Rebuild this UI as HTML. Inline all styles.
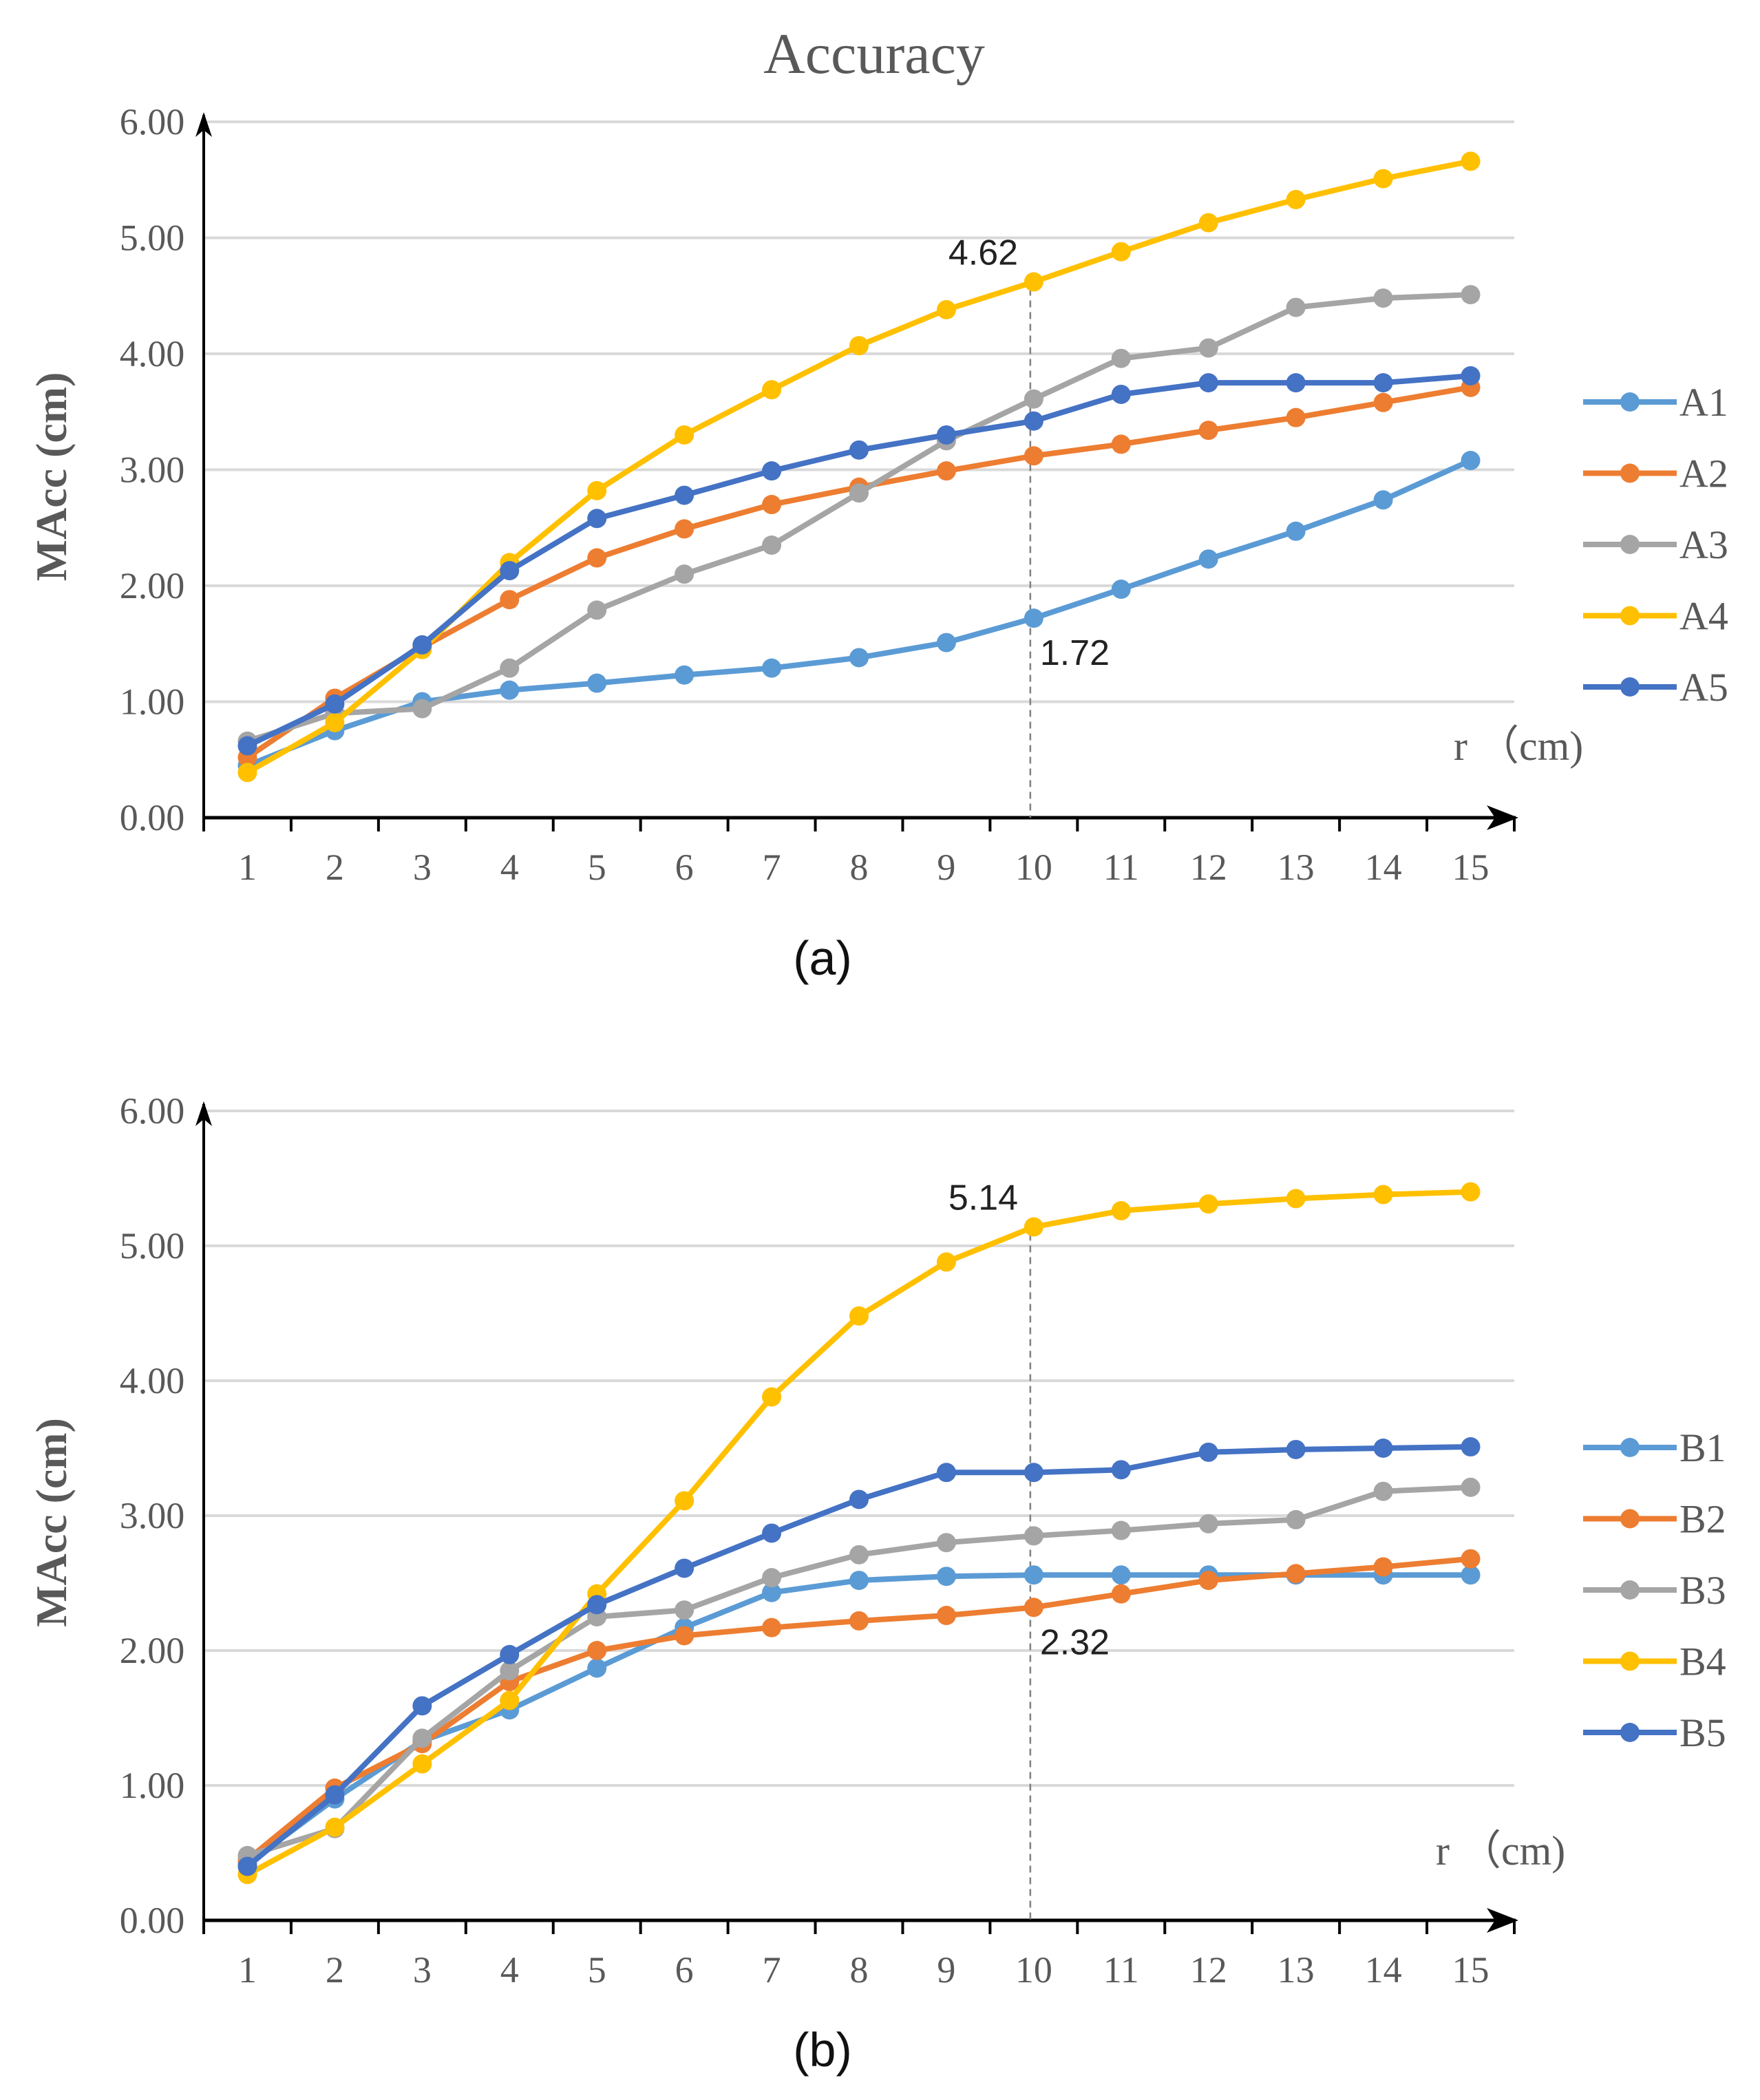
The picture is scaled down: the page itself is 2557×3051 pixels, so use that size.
<!DOCTYPE html>
<html><head><meta charset="utf-8"><style>
html,body{margin:0;padding:0;background:#fff;}
svg{display:block;}
.serif{font-family:"Liberation Serif",serif;}
.sans{font-family:"Liberation Sans",sans-serif;}
</style></head><body>
<svg id="chart" width="2557" height="3051" viewBox="0 0 2557 3051" xmlns="http://www.w3.org/2000/svg">
<text x="1270" y="106" text-anchor="middle" class="serif" font-size="84" fill="#595959">Accuracy</text>
<g id="panelA"></g>
<g id="panelB"></g>
</svg>
<script>
const categories = [1,2,3,4,5,6,7,8,9,10,11,12,13,14,15];
const yTicks = [0,1,2,3,4,5,6];
const yTickLabels = ["0.00","1.00","2.00","3.00","4.00","5.00","6.00"];
const seriesNamesA = ["A1","A2","A3","A4","A5"];
const seriesNamesB = ["B1","B2","B3","B4","B5"];
const colors = ["#5B9BD5","#ED7D31","#A5A5A5","#FFC000","#4472C4"];
const A1 = [0.45,0.75,1.0,1.1,1.16,1.23,1.29,1.38,1.51,1.72,1.97,2.23,2.47,2.74,3.08];
const A2 = [0.52,1.03,1.47,1.88,2.24,2.49,2.70,2.85,2.99,3.12,3.22,3.34,3.45,3.58,3.71];
const A3 = [0.66,0.90,0.94,1.29,1.79,2.10,2.35,2.80,3.25,3.61,3.96,4.05,4.40,4.48,4.51];
const A4 = [0.39,0.82,1.45,2.20,2.82,3.30,3.69,4.07,4.38,4.62,4.88,5.13,5.33,5.51,5.66];
const A5 = [0.62,0.98,1.49,2.13,2.58,2.78,2.99,3.17,3.30,3.42,3.65,3.75,3.75,3.75,3.81];
const B1 = [0.42,0.90,1.33,1.56,1.87,2.17,2.43,2.52,2.55,2.56,2.56,2.56,2.56,2.56,2.56];
const B2 = [0.45,0.98,1.31,1.77,2.00,2.11,2.17,2.22,2.26,2.32,2.42,2.52,2.57,2.62,2.68];
const B3 = [0.48,0.68,1.35,1.85,2.25,2.30,2.54,2.71,2.80,2.85,2.89,2.94,2.97,3.18,3.21];
const B4 = [0.34,0.69,1.16,1.63,2.42,3.11,3.88,4.48,4.88,5.14,5.26,5.31,5.35,5.38,5.40];
const B5 = [0.40,0.93,1.59,1.97,2.34,2.61,2.87,3.12,3.32,3.32,3.34,3.47,3.49,3.50,3.51];
const annotA = [{series:3,index:9,label:"4.62",above:true},{series:0,index:9,label:"1.72",above:false}];
const annotB = [{series:3,index:9,label:"5.14",above:true},{series:1,index:9,label:"2.32",above:false}];

const NS="http://www.w3.org/2000/svg";
function mk(tag,attrs,parent){const e=document.createElementNS(NS,tag);for(const k in attrs)e.setAttribute(k,attrs[k]);parent.appendChild(e);return e;}

function drawPanel(g,cfg){
  const L=296,R=2200,y0=cfg.y0,y6=cfg.y6;
  const band=(R-L)/categories.length;
  const xs=i=>L+band*(i+0.5);
  const ys=v=>y0+(y6-y0)*v/6;
  yTicks.forEach((t,i)=>{
    if(t>0){const gl=mk('line',{x1:L,x2:R,y1:ys(t),y2:ys(t),stroke:'#d9d9d9','stroke-width':4},g);
      
      }
    const tl=mk('text',{x:L-75,y:ys(t)+18,'text-anchor':'middle','font-size':54,fill:'#595959',class:'serif'},g);
    tl.textContent=yTickLabels[i];
    
    
  });
  const ya=mk('line',{x1:L,x2:L,y1:y0,y2:y6-10,stroke:'#000','stroke-width':4},g);
  
  
  const yh=mk('path',{d:`M${L-12},${y6+22} L${L},${y6-14} L${L+12},${y6+22} L${L},${y6+12} Z`,fill:'#000'},g);
  
  
  const xa=mk('line',{x1:L,x2:R+2,y1:y0,y2:y0,stroke:'#000','stroke-width':5},g);
  
  
  const xh=mk('path',{d:`M${R-40},${y0-18} L${R+6},${y0} L${R-40},${y0+18} L${R-28},${y0} Z`,fill:'#000'},g);
  
  
  for(let i=0;i<=categories.length;i++){
    const tk=mk('line',{x1:L+band*i,x2:L+band*i,y1:y0,y2:y0+20,stroke:'#000','stroke-width':4},g);
    
    
  }
  categories.forEach((c,i)=>{
    const t=mk('text',{x:xs(i),y:y0+90,'text-anchor':'middle','font-size':54,fill:'#595959',class:'serif'},g);
    t.textContent=c;
    
    
  });
  const yl=mk('text',{x:0,y:0,transform:`translate(96,${(y0+y6)/2+10}) rotate(-90)`,'text-anchor':'middle','font-size':64,'font-weight':'bold',fill:'#595959',class:'serif'},g);
  yl.textContent='MAcc (cm)';
  
  
  const xl=mk('text',{x:cfg.rx,y:cfg.ry,'text-anchor':'start','font-size':60,fill:'#595959',class:'serif'},g);
  xl.textContent='r （cm)';
  
  
  const dl=mk('line',{x1:xs(9)-5,x2:xs(9)-5,y1:ys(cfg.series[3][9])+10,y2:y0,stroke:'#808080','stroke-width':2.5,'stroke-dasharray':'10,7'},g);
  
  
  cfg.series.forEach((s,si)=>{
    const sg=mk('g',{},g);
    
    
    const p=mk('polyline',{points:s.map((v,i)=>xs(i)+','+ys(v)).join(' '),fill:'none',stroke:colors[si],'stroke-width':8,'stroke-linejoin':'round'},sg);
    
    
    s.forEach((v,i)=>{
      const c=mk('circle',{cx:xs(i),cy:ys(v),r:14,fill:colors[si]},sg);
      
      
    });
  });
  cfg.annot.forEach(a=>{
    const v=cfg.series[a.series][a.index];
    const t=mk('text',{x:a.above?xs(a.index)-124:xs(a.index)+9,y:a.above?ys(v)-25:ys(v)+68,'font-size':52,fill:'#222',class:'sans','text-anchor':'start'},g);
    t.textContent=a.label;
    
    
  });
  cfg.names.forEach((n,i)=>{
    const ly=cfg.legY+i*103.5;
    const lg=mk('g',{},g);
    
    
    mk('line',{x1:2300,x2:2436,y1:ly,y2:ly,stroke:colors[i],'stroke-width':8},lg);
    mk('circle',{cx:2368,cy:ly,r:14,fill:colors[i]},lg);
    const t=mk('text',{x:2440,y:ly+20,'font-size':58,fill:'#595959',class:'serif'},lg);
    t.textContent=n;
  });
  const cap=mk('text',{x:1195,y:cfg.capY,'text-anchor':'middle','font-size':70,fill:'#111',class:'sans'},g);
  cap.textContent=cfg.cap;
  
  
}
drawPanel(document.getElementById('panelA'),{y0:1188,y6:177,series:[A1,A2,A3,A4,A5],names:seriesNamesA,annot:annotA,legY:584,rx:2112,ry:1104,cap:'(a)',capY:1416});
drawPanel(document.getElementById('panelB'),{y0:2790,y6:1614,series:[B1,B2,B3,B4,B5],names:seriesNamesB,annot:annotB,legY:2103,rx:2086,ry:2709,cap:'(b)',capY:3002});
</script>
</body></html>
